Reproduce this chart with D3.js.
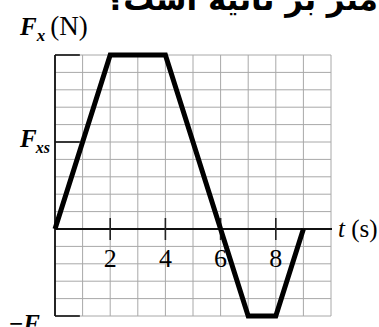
<!DOCTYPE html>
<html>
<head>
<meta charset="utf-8">
<script src="https://cdn.jsdelivr.net/npm/d3@7"></script>
<style>
  html, body { margin: 0; padding: 0; background: #fff; }
  svg { display: block; }
  .serif { font-family: "Liberation Serif", "DejaVu Serif", serif; fill: #000; }
</style>
</head>
<body>
<div id="chart"></div>
<script>
// force in units of F_xs, time in seconds
const times = [0, 2, 4, 7, 8, 9]
const forces = [0, 2, 2, -1, -1, 0]
const tickTimes = [2, 4, 6, 8]
const tickLabels = ["2", "4", "6", "8"]
const question = "متر بر ثانیه است؟"

const width = 379
const height = 327

const svg = d3.select("#chart")
  .append("svg")
  .attr("width", width)
  .attr("height", height)

const x = d3.scaleLinear().domain([0, 10]).range([55, 331])
const y = d3.scaleLinear().domain([-1, 2]).range([316, 55])

// grid
const grid = svg.append("g").attr("stroke", "#a8a8a8").attr("stroke-width", 1)
grid.selectAll("line.v")
  .data(d3.range(0, 11))
  .join("line")
  .attr("class", "v")
  .attr("x1", d => x(d)).attr("x2", d => x(d))
  .attr("y1", y(2)).attr("y2", y(-1))
grid.selectAll("line.h")
  .data(d3.range(-5, 11).map(d => d / 5))
  .join("line")
  .attr("class", "h")
  .attr("x1", x(0)).attr("x2", x(10))
  .attr("y1", d => y(d)).attr("y2", d => y(d))

// short dark ticks on the force axis
svg.append("g")
  .selectAll("line")
  .data([2, 1, -1])
  .join("line")
  .attr("x1", x(0)).attr("x2", x(0.9))
  .attr("y1", d => y(d)).attr("y2", d => y(d))
  .attr("stroke", "#111").attr("stroke-width", 1.6)

// axes
svg.append("line")
  .attr("x1", x(0)).attr("x2", x(0))
  .attr("y1", y(2)).attr("y2", y(-1))
  .attr("stroke", "#111").attr("stroke-width", 1.8)
svg.append("line")
  .attr("x1", x(0)).attr("x2", x(10) + 1)
  .attr("y1", y(0)).attr("y2", y(0))
  .attr("stroke", "#111").attr("stroke-width", 1.8)

svg.append("g")
  .selectAll("line")
  .data(tickTimes)
  .join("line")
  .attr("x1", d => x(d)).attr("x2", d => x(d))
  .attr("y1", y(0) - 11).attr("y2", y(0) + 11)
  .attr("stroke", "#222").attr("stroke-width", 1.6)

svg.append("g")
  .selectAll("text")
  .data(tickTimes)
  .join("text")
  .attr("class", "serif")
  .attr("x", d => x(d))
  .attr("y", y(0) + 38)
  .attr("text-anchor", "middle")
  .attr("font-size", 26)
  .text((d, i) => tickLabels[i])

// data line
const line = d3.line()
  .x((d, i) => x(times[i]))
  .y(d => y(d))

svg.append("path")
  .datum(forces)
  .attr("fill", "none")
  .attr("stroke", "#000")
  .attr("stroke-width", 5)
  .attr("stroke-linejoin", "miter")
  .attr("d", line)

// labels
const fx = svg.append("text").attr("class", "serif").attr("x", 20).attr("y", 35).attr("font-size", 25)
fx.append("tspan").attr("font-style", "italic").attr("font-weight", "bold").text("F")
fx.append("tspan").attr("font-style", "italic").attr("font-weight", "bold").attr("font-size", 17).attr("dy", 6).text("x")
fx.append("tspan").attr("font-size", 27).attr("dx", 5).attr("dy", -6).text("(N)")

const fxs = svg.append("text").attr("class", "serif").attr("x", 20).attr("y", y(1) + 5).attr("font-size", 25)
fxs.append("tspan").attr("font-style", "italic").attr("font-weight", "bold").text("F")
fxs.append("tspan").attr("font-style", "italic").attr("font-weight", "bold").attr("font-size", 16).attr("dy", 6).attr("dx", -1).text("xs")

const nfxs = svg.append("text").attr("class", "serif").attr("x", 9).attr("y", y(-1) + 16).attr("font-size", 25)
nfxs.append("tspan").attr("font-weight", "bold").text("−")
nfxs.append("tspan").attr("font-style", "italic").attr("font-weight", "bold").text("F")
nfxs.append("tspan").attr("font-style", "italic").attr("font-weight", "bold").attr("font-size", 16).attr("dy", 6).attr("dx", -1).text("xs")

const tl = svg.append("text").attr("class", "serif").attr("x", x(10) + 7).attr("y", y(0) + 8).attr("font-size", 25)
tl.append("tspan").attr("font-style", "italic").text("t")
tl.append("tspan").text(" (s)")

svg.append("text")
  .attr("x", 378)
  .attr("y", 10)
  .attr("text-anchor", "start")
  .attr("font-family", "'DejaVu Sans', 'Noto Sans', sans-serif")
  .attr("font-weight", "bold")
  .attr("font-size", 31)
  .style("direction", "rtl")
  .style("unicode-bidi", "embed")
  .text(question)
</script>
</body>
</html>
